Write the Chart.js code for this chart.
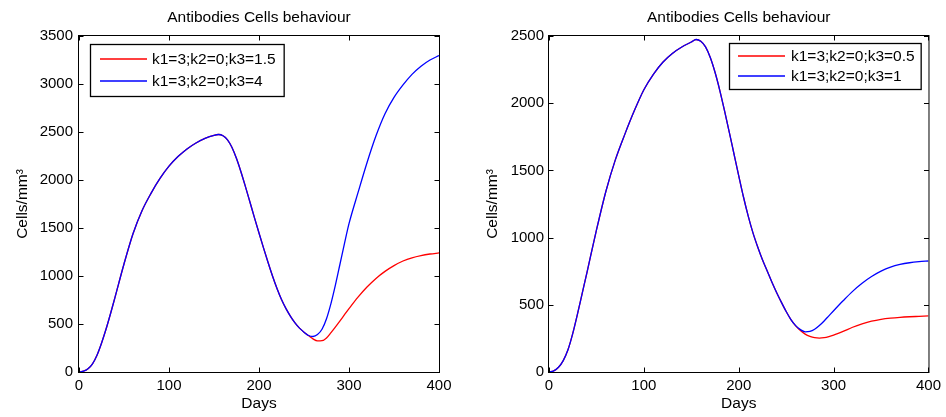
<!DOCTYPE html>
<html>
<head>
<meta charset="utf-8">
<script src="https://cdn.jsdelivr.net/npm/chart.js@4.4.1/dist/chart.umd.min.js"></script>
<style>
  html, body { margin: 0; padding: 0; background: #fff; }
  #wrap { position: relative; width: 946px; height: 417px; overflow: hidden; }
  .panel { position: absolute; top: 0; width: 473px; height: 417px; }
</style>
</head>
<body>
<div id="wrap">
  <div class="panel" style="left:0"><canvas id="left" width="473" height="417"></canvas></div>
  <div class="panel" style="left:473px"><canvas id="right" width="473" height="417"></canvas></div>
</div>
<script>
// sample days shared by every curve
const days = [0, 5, 10, 15, 20, 25, 30, 35, 40, 50,
              60, 70, 80, 90, 100, 110, 120, 130, 140, 150,
              155, 160, 165, 170, 175, 180, 185, 190, 195, 200,
              205, 210, 215, 220, 225, 230, 235, 240, 245, 250,
              255, 260, 265, 270, 275, 280, 285, 290, 295, 300,
              310, 320, 330, 340, 350, 360, 370, 380, 390, 400];

// left panel: k3 = 1.5 (red) and k3 = 4 (blue)
const leftK3_15 = [0, 8, 33, 85, 175, 300, 445, 607, 778, 1125,
                   1440, 1680, 1861, 2016, 2144, 2244, 2324, 2386, 2434, 2466,
                   2474, 2461, 2419, 2339, 2224, 2084, 1929, 1768, 1606, 1448,
                   1293, 1143, 1000, 870, 755, 660, 580, 512, 457, 415,
                   380, 345, 324, 326, 355, 410, 470, 533, 597, 660,
                   780, 885, 975, 1048, 1108, 1156, 1190, 1213, 1229, 1240];
const leftK3_4 = [0, 8, 33, 85, 175, 300, 445, 607, 778, 1125,
                  1440, 1680, 1861, 2016, 2144, 2244, 2324, 2386, 2434, 2466,
                  2474, 2461, 2419, 2339, 2224, 2084, 1929, 1768, 1606, 1448,
                  1293, 1143, 1000, 870, 755, 660, 580, 512, 457, 415,
                  380, 370, 390, 445, 555, 715, 910, 1125, 1340, 1545,
                  1868, 2180, 2460, 2690, 2860, 2990, 3100, 3185, 3250, 3296];

// right panel: k3 = 0.5 (red) and k3 = 1 (blue)
const rightK3_05 = [0, 8, 35, 85, 165, 285, 430, 585, 740, 1055,
                    1345, 1580, 1770, 1945, 2100, 2215, 2305, 2370, 2418, 2455,
                    2474, 2461, 2419, 2340, 2230, 2096, 1944, 1785, 1622, 1460,
                    1302, 1160, 1035, 930, 835, 752, 668, 590, 518, 450,
                    390, 343, 308, 282, 265, 255, 252, 255, 263, 274,
                    302, 333, 358, 378, 392, 401, 407, 411, 414, 417];
const rightK3_1 = [0, 8, 35, 85, 165, 285, 430, 585, 740, 1055,
                   1345, 1580, 1770, 1945, 2100, 2215, 2305, 2370, 2418, 2455,
                   2474, 2461, 2419, 2340, 2230, 2096, 1944, 1785, 1622, 1460,
                   1302, 1160, 1035, 930, 835, 752, 668, 590, 518, 450,
                   390, 345, 315, 299, 302, 318, 346, 380, 418, 456,
                   530, 600, 660, 710, 750, 780, 800, 813, 821, 826];

const xTicks = [0, 100, 200, 300, 400];
const leftYTicks = [0, 500, 1000, 1500, 2000, 2500, 3000, 3500];
const rightYTicks = [0, 500, 1000, 1500, 2000, 2500];

const FONT = '"Liberation Sans", Arial, Helvetica, sans-serif';
Chart.defaults.font.family = FONT;
Chart.defaults.color = '#000';

// MATLAB style frame: box round the axes, ticks pointing inwards on all four sides
const matlabBox = {
    id: 'matlabBox',
    afterDatasetsDraw(chart) {
        const { ctx, chartArea: a, scales: { x, y } } = chart;
        const L = a.left - 0.5, R = a.right + 0.5, T = a.top - 0.5, B = a.bottom + 0.5;
        const len = 5;
        ctx.save();
        ctx.strokeStyle = '#000';
        ctx.lineWidth = 1;
        ctx.beginPath();
        x.ticks.forEach(t => {
            const px = Math.round(x.getPixelForValue(t.value)) + 0.5;
            ctx.moveTo(px, B); ctx.lineTo(px, B - len);
            ctx.moveTo(px, T); ctx.lineTo(px, T + len);
        });
        y.ticks.forEach(t => {
            const py = Math.round(y.getPixelForValue(t.value)) + 0.5;
            ctx.moveTo(L, py); ctx.lineTo(L + len, py);
            ctx.moveTo(R, py); ctx.lineTo(R - len, py);
        });
        ctx.stroke();
        ctx.strokeRect(L, T, R - L, B - T);
        ctx.restore();
    }
};

// legend drawn inside the axes, in a framed box
const boxLegend = {
    id: 'boxLegend',
    afterDatasetsDraw(chart, args, opts) {
        const { ctx, chartArea: a } = chart;
        const sets = chart.data.datasets;
        ctx.save();
        ctx.font = opts.fontSize + 'px ' + FONT;
        const textW = Math.max(...sets.map(d => ctx.measureText(d.label).width));
        const w = opts.padLeft + opts.lineLen + opts.gap + textW + opts.padRight;
        const h = opts.rowH * sets.length + opts.padY * 2;
        const x = opts.align === 'right' ? Math.round(a.right - opts.offsetX - w) : a.left + opts.offsetX;
        const y = a.top + opts.offsetY;
        ctx.fillStyle = '#fff';
        ctx.fillRect(x, y, w, h);
        ctx.strokeStyle = '#000';
        ctx.lineWidth = 1.3;
        ctx.strokeRect(x + 0.5, y + 0.5, w, h);
        ctx.textBaseline = 'middle';
        sets.forEach((d, i) => {
            const cy = y + opts.padY + opts.rowH * (i + 0.5);
            ctx.strokeStyle = d.borderColor;
            ctx.lineWidth = d.borderWidth;
            ctx.beginPath();
            ctx.moveTo(x + opts.padLeft, cy);
            ctx.lineTo(x + opts.padLeft + opts.lineLen, cy);
            ctx.stroke();
            ctx.fillStyle = '#000';
            ctx.fillText(d.label, x + opts.padLeft + opts.lineLen + opts.gap, cy + 1);
        });
        ctx.restore();
    }
};

function series(values, label, color, order) {
    return {
        label: label,
        data: days.map((d, i) => ({ x: d, y: values[i] })),
        borderColor: color,
        borderWidth: 1.3,
        pointRadius: 0,
        cubicInterpolationMode: 'monotone',
        order: order
    };
}

function makeChart(id, sets, yTicks, yMax, geo, legendOpts) {
    return new Chart(document.getElementById(id), {
        type: 'line',
        data: { datasets: sets },
        options: {
            responsive: false,
            animation: false,
            devicePixelRatio: 1,
            layout: { padding: { left: 0, right: geo.padRight, top: 0, bottom: 0 } },
            plugins: {
                legend: { display: false },
                tooltip: { enabled: false },
                title: {
                    display: true,
                    text: 'Antibodies Cells behaviour',
                    fullSize: false,
                    font: { size: 15.5, weight: 'normal' },
                    color: '#000',
                    padding: { top: 8.5, bottom: 8.9 }
                },
                boxLegend: legendOpts
            },
            scales: {
                x: {
                    type: 'linear',
                    min: 0, max: 400,
                    afterBuildTicks: s => { s.ticks = xTicks.map(v => ({ value: v })); },
                    afterFit: s => { s.height = 45; },
                    grid: { display: false, drawTicks: false },
                    border: { display: false },
                    ticks: { font: { size: 15 }, padding: 5, maxRotation: 0, callback: v => String(v) },
                    title: { display: true, text: 'Days', font: { size: 15.5 }, padding: { top: 0, bottom: 4 } }
                },
                y: {
                    type: 'linear',
                    min: 0, max: yMax,
                    afterBuildTicks: s => { s.ticks = yTicks.map(v => ({ value: v })); },
                    afterFit: s => { s.width = geo.yWidth; },
                    grid: { display: false, drawTicks: false },
                    border: { display: false },
                    ticks: { font: { size: 15 }, padding: geo.yTickPad, callback: v => String(v) },
                    title: { display: true, text: 'Cells/mm³', font: { size: 15.5 }, padding: { top: geo.yTitlePad, bottom: 0 } }
                }
            }
        },
        plugins: [matlabBox, boxLegend]
    });
}

makeChart('left', [
    series(leftK3_15, 'k1=3;k2=0;k3=1.5', '#ff0000', 1),
    series(leftK3_4, 'k1=3;k2=0;k3=4', '#0000ff', 0)
], leftYTicks, 3500, { padRight: 34, yWidth: 79, yTickPad: 6, yTitlePad: 13 },
{ align: 'left', offsetX: 11, offsetY: 8, padLeft: 10, lineLen: 47, gap: 5, padRight: 8, padY: 4, rowH: 22, fontSize: 15.5 });

makeChart('right', [
    series(rightK3_05, 'k1=3;k2=0;k3=0.5', '#ff0000', 1),
    series(rightK3_1, 'k1=3;k2=0;k3=1', '#0000ff', 0)
], rightYTicks, 2500, { padRight: 15, yWidth: 76, yTickPad: 5, yTitlePad: 10 },
{ align: 'right', offsetX: 8, offsetY: 7, padLeft: 9, lineLen: 47, gap: 6, padRight: 6, padY: 3, rowH: 20, fontSize: 15.5 });
</script>
</body>
</html>
